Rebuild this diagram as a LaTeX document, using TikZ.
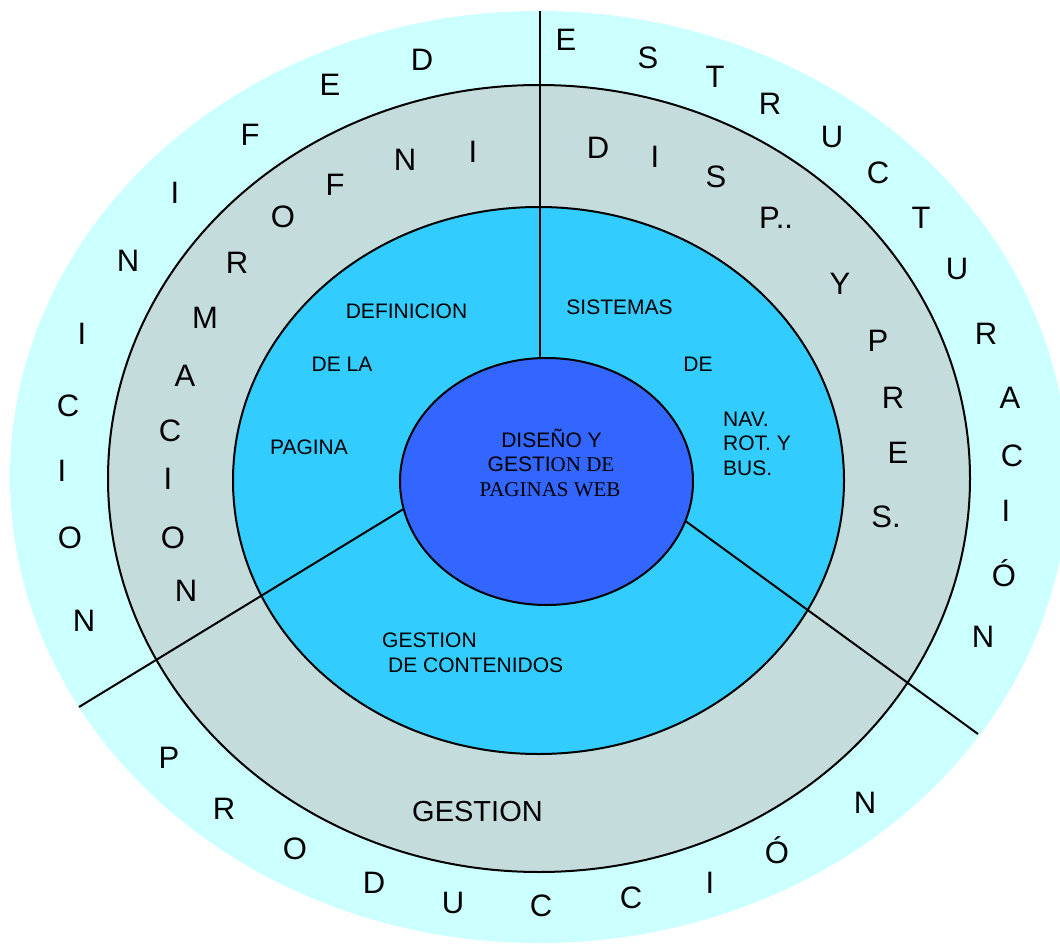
\documentclass[tikz,border=0pt]{standalone}
\usepackage{fontspec}
\setmainfont{Liberation Sans}
\newfontfamily\romanface{Liberation Serif}
\usetikzlibrary{shapes.geometric}

\definecolor{ringouter}{HTML}{CCFFFF}
\definecolor{ringmid}{HTML}{C5DCDC}
\definecolor{ringinner}{HTML}{33CCFF}
\definecolor{corefill}{HTML}{3366FF}

\begin{document}
\begin{tikzpicture}[x=1pt,y=-1pt,
  disc/.style={ellipse, inner sep=0pt, draw=black, line width=2pt},
  spoke/.style={draw=black, line width=2pt},
  ringletter/.style={inner sep=0pt, text height=22pt, text depth=0pt,
                     font=\fontsize{31}{31}\selectfont},
  sectortext/.style={inner sep=0pt, anchor=base, font=\fontsize{21}{21}\selectfont},
  leftline/.style={sectortext, anchor=base west},
]
\useasboundingbox (0,0) rectangle (1060,944);
\clip (0,0) rectangle (1060,944);

% concentric rings
\node[ellipse, inner sep=0pt, fill=ringouter, minimum width=1058pt, minimum height=932pt] (outer) at (539,477) {};
\node[disc, fill=ringmid, minimum width=862pt, minimum height=787pt] (mid) at (539,478.5) {};
\node[disc, fill=ringinner, minimum width=611pt, minimum height=547pt] (inner) at (538.5,480.5) {};
\node[disc, fill=corefill, minimum width=293pt, minimum height=247pt] (core) at (546.5,481.5) {};

% dividing spokes
\coordinate (topend) at (540,11);
\coordinate (leftend) at (79,707);
\coordinate (rightend) at (978,734);
\draw[spoke] (topend) -- (topend |- core.north);
\draw[spoke] (core.191) -- (leftend);
\draw[spoke] (core.344) -- (rightend);

% core title
\node[sectortext] (core1) at (551.5,447) {DISEÑO Y};
\node[sectortext] (core2) at (551,471) {GESTI{\romanface ON DE}};
\node[sectortext] (core3) at (550,496.5) {\romanface PAGINAS WEB};

% inner ring sectors
\node[sectortext] (def1) at (406.5,318.5) {DEFINICION};
\node[sectortext] (def2) at (342,371.5) {DE LA};
\node[sectortext] (def3) at (309,454.5) {PAGINA};
\node[sectortext] (sis1) at (619.5,314.5) {SISTEMAS};
\node[sectortext] (sis2) at (698,371.5) {DE};
\node[leftline] (sis3) at (723,426.5) {NAV.};
\node[leftline] (sis4) at (723,450) {ROT. Y};
\node[leftline] (sis5) at (723,475) {BUS.};
\node[leftline] (con1) at (382,647) {GESTION};
\node[leftline] (con2) at (388,672) {DE CONTENIDOS};

% middle ring
\node[sectortext, font=\fontsize{29}{29}\selectfont] (gest) at (477.5,821) {GESTION};
\foreach \t/\x/\y [count=\i] in {I/473/152, N/405/160, F/335/185, O/283/216,
    R/237/262, M/205/317, A/185/375, C/170/430, I/168/478, O/173/537, N/186/590}
  \node[ringletter] (info\i) at (\x,\y) {\t};
\foreach \t/\x/\y [count=\i] in {D/598/148, I/655/157, S/716/177, P../776/218,
    Y/840/283, P/878/340, R/893/397, E/898/452, S./886/516}
  \node[ringletter] (disp\i) at (\x,\y) {\t};

% outer ring
\foreach \t/\x/\y [count=\i] in {D/422/60, E/330/85, F/250/135, I/175/193,
    N/128/260, I/82/333, C/68/405, I/62/470, O/70/537, N/84/620}
  \node[ringletter] (defi\i) at (\x,\y) {\t};
\foreach \t/\x/\y [count=\i] in {E/566/40, S/648/58, T/715/77, R/770/104,
    U/832/137, C/878/173, T/921/218, U/957/268, R/986/333, A/1010/397,
    C/1012/455, I/1006/510, Ó/1004/575, N/983/636}
  \node[ringletter] (estr\i) at (\x,\y) {\t};
\foreach \t/\x/\y [count=\i] in {P/169/757, R/224/808, O/295/848, D/374/882,
    U/453/902, C/541/905, C/631/897, I/710/882, Ó/777/852, N/865/802}
  \node[ringletter] (prod\i) at (\x,\y) {\t};
\end{tikzpicture}
\end{document}
